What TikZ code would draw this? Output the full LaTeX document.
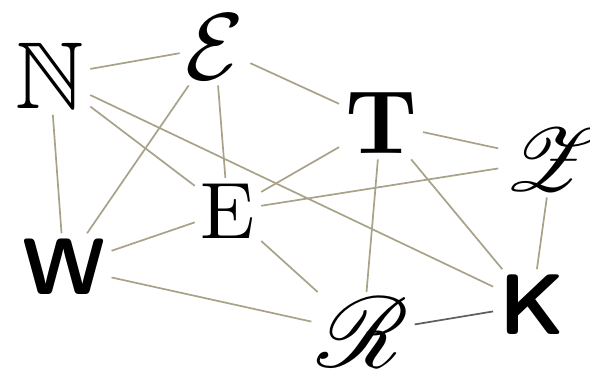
\documentclass[tikz,border=0pt]{standalone}
\usepackage{amssymb}
\usepackage{mathrsfs}
\usepackage{graphicx}
\definecolor{linktan}{RGB}{168,162,136}
\definecolor{linkgray}{RGB}{95,95,95}
\newcommand{\bigglyph}[2]{\scalebox{#1}{#2}}
\begin{document}
\begin{tikzpicture}[x=1pt,y=-1pt,
  letter/.style={inner sep=0pt,outer sep=6pt},
  link/.style={linktan,line width=1.7pt},
  darklink/.style={linkgray,line width=1.7pt}]
  \useasboundingbox[fill=white] (0,0) rectangle (590,379);
  \node[letter] (N)  at (50,76)   {\bigglyph{9.5}{$\mathbb{N}$}};
  \node[letter] (E1) at (215,47)  {\bigglyph{9.5}{$\mathcal{E}$}};
  \node[letter] (T)  at (381,123) {\bigglyph{9}{\bfseries T}};
  \node[letter] (Z)  at (552,160) {\bigglyph{9}{$\mathscr{Z}$}};
  \node[letter] (E2) at (228,211) {\bigglyph{8}{E}};
  \node[letter] (W)  at (64,267)  {\bigglyph{8}{\sffamily\bfseries W}};
  \node[letter] (R)  at (363,333) {\bigglyph{10}{$\mathscr{R}$}};
  \node[letter] (K)  at (532,305) {\bigglyph{8.6}{\sffamily\bfseries K}};
  % links
  \draw[link] (N) -- (E1);
  \draw[link] (N) -- (E2);
  \draw[link] (N) -- (K);
  \draw[link] (N) -- (W);
  \draw[link] (E1) -- (W);
  \draw[link] (E1) -- (E2);
  \draw[link] (E1) -- (T);
  \draw[link] (T) -- (Z);
  \draw[link] (T) -- (E2);
  \draw[link] (T) -- (R);
  \draw[link] (T) -- (K);
  \draw[link] (Z) -- (E2);
  \draw[link] (Z) -- (K);
  \draw[link] (E2) -- (W);
  \draw[link] (E2) -- (R);
  \draw[link] (W) -- (R);
  \draw[darklink] (R) -- (K);
\end{tikzpicture}
\end{document}
